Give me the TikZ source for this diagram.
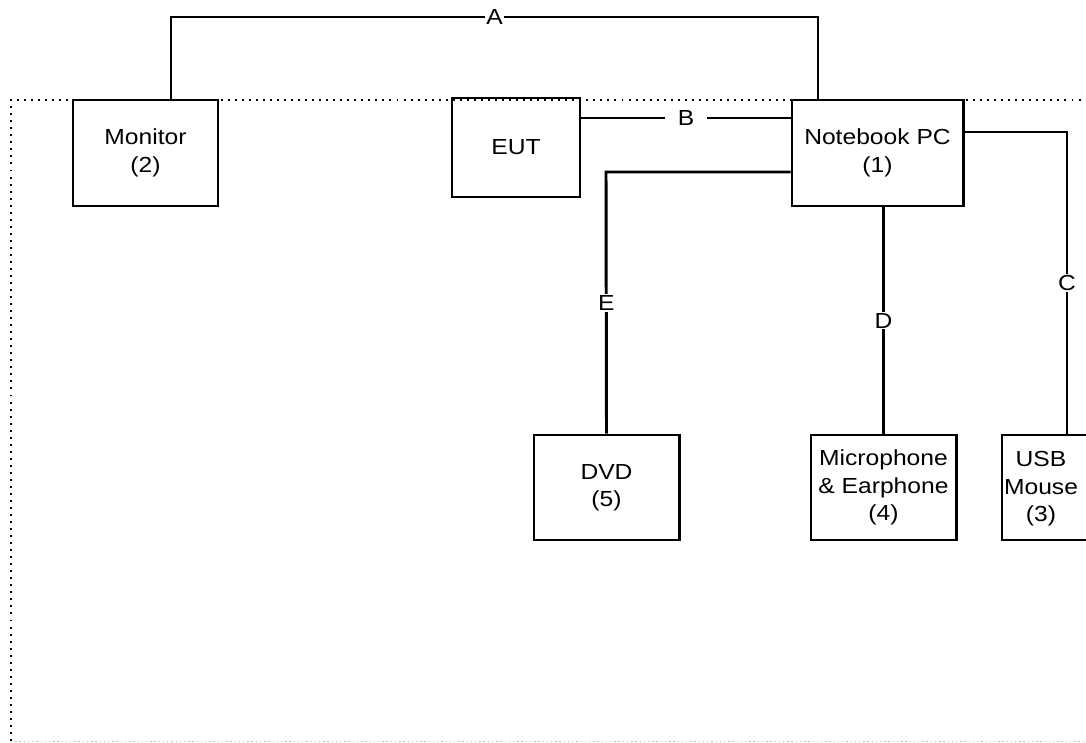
\documentclass[tikz,border=0pt]{standalone}
\usepackage{fontspec}
\setmainfont[FakeStretch=1.13]{Liberation Sans}
\begin{document}
\begin{tikzpicture}[x=0.025cm, y=-0.025cm,
    dev/.style={draw, line width=2.1pt, rectangle, align=center, inner sep=0pt,
                font=\fontsize{15.5}{19.5}\selectfont},
    lbl/.style={fill=white, inner xsep=2pt, inner ysep=1pt, font=\fontsize{15.5}{19.5}\selectfont},
    cable/.style={line width=2.1pt}]
    \useasboundingbox (0,0) rectangle (1086,743);
    \clip (0,0) rectangle (1086,743);

    % test area
    \draw[line width=1.4pt, dash pattern=on 1.4pt off 3.6pt] (11,741) -- (11,100) -- (1100,100);
    \draw[line width=0.6pt, black!25, dash pattern=on 1pt off 2pt] (11,741) -- (1100,741);

    % devices
    \node[dev, minimum width=3.625cm, minimum height=2.65cm] (mon) at (145.5,153) {Monitor\\(2)};
    \node[dev, minimum width=3.2cm, minimum height=2.475cm] (eut) at (516,147.5) {EUT};
    \node[dev, minimum width=4.275cm, minimum height=2.65cm] (nb) at (877.5,153) {Notebook PC\\(1)};
    \node[dev, minimum width=3.625cm, minimum height=2.625cm] (dvd) at (606.5,487.5) {DVD\\(5)};
    \node[dev, minimum width=3.625cm, minimum height=2.625cm] (mic) at (883.5,487.5) {Microphone\\\& Earphone\\(4)};
    \node[dev, minimum width=3.625cm, minimum height=2.625cm] (usb) at (1074.5,487.5) {};
    \node[align=center, font=\fontsize{15.5}{19.5}\selectfont] (usbtext) at (1041,489) {USB\\Mouse\\(3)};

    % cables
    \coordinate (aL) at (171,17);
    \coordinate (aR) at (818,17);
    \draw[cable] (mon.north -| aL) -- (aL) -- node[lbl, inner xsep=1pt] {A} (aR) -- (nb.north -| aR);

    \coordinate (bY) at (0,118);
    \draw[cable] (eut.east |- bY) -- node[lbl, inner xsep=9pt] {B} (nb.west |- bY);

    \coordinate (cT) at (1067,132);
    \draw[cable] (nb.east |- cT) -- (cT) -- node[lbl] {C} (usb.north -| cT);

    \draw[cable] (mic.north |- nb.south) -- node[lbl] {D} (mic.north);

    \coordinate (eT) at (606,172);
    \draw[cable] (nb.west |- eT) -- (eT) -- node[lbl] {E} (dvd.north);
\end{tikzpicture}
\end{document}
